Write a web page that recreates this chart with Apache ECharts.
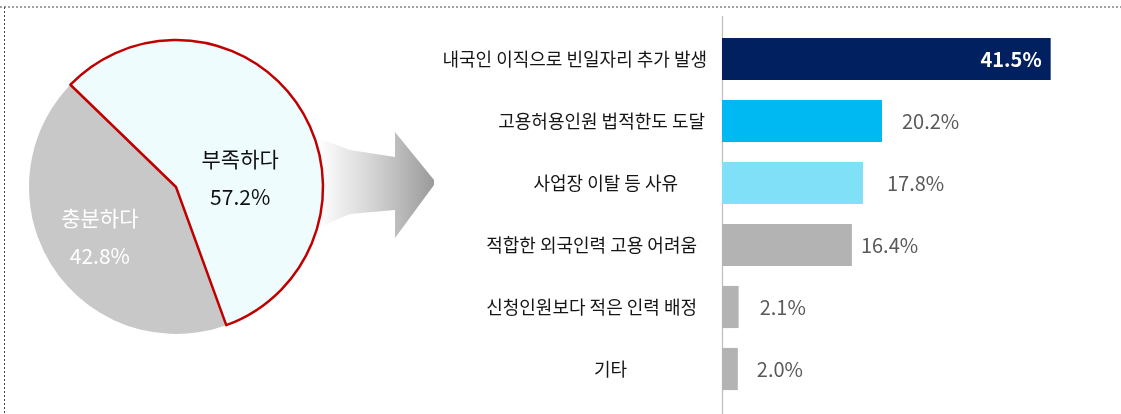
<!DOCTYPE html>
<html>
<head>
<meta charset="utf-8">
<script src="https://cdn.jsdelivr.net/npm/echarts@6/dist/echarts.min.js"></script>
<style>
  html, body { margin: 0; padding: 0; background: #ffffff; }
  #chart { width: 1121px; height: 414px; }
</style>
</head>
<body>
<div id="chart"></div>
<script>
// 인력 충분 여부 (원형)
const pieNames = ['충분하다', '부족하다'];
const pieValues = [42.8, 57.2];

// 부족 사유 (막대)
const reasons = [
  '내국인 이직으로 빈일자리 추가 발생',
  '고용허용인원 법적한도 도달',
  '사업장 이탈 등 사유',
  '적합한 외국인력 고용 어려움',
  '신청인원보다 적은 인력 배정',
  '기타'
];
const reasonValues = [41.5, 20.2, 17.8, 16.4, 2.1, 2.0];

// 막대 색상과 라벨 여백
const barColors = ['#002060', '#00b8f2', '#7fe0f8', '#b3b3b3', '#b3b3b3', '#b3b3b3'];
const labelGaps = [9, 20, 24, 9, 21, 19];
const nameInsets = [0, 2, 29, 10, 10, 80];

const FONT = '"Noto Sans CJK KR", "Noto Sans", sans-serif';

const chart = echarts.init(document.getElementById('chart'), null, { renderer: 'canvas' });

const pieData = pieNames.map((n, i) => {
  const item = { name: n, value: pieValues[i] };
  if (n === '부족하다') {
    item.itemStyle = { color: '#eefcfe', borderColor: '#c00000', borderWidth: 2.5 };
    item.label = { color: '#111111', offset: [0, 33], align: 'center' };
  } else {
    item.itemStyle = { color: '#c8c8c8', borderWidth: 0 };
    item.label = { color: '#ffffff', offset: [-12, 8] };
  }
  return item;
});

const barData = reasonValues.map((v, i) => {
  const first = i === 0;
  return {
    value: v,
    itemStyle: { color: barColors[i] },
    label: first
      ? { position: 'insideRight', distance: labelGaps[i], color: '#ffffff', fontWeight: 'bold' }
      : { position: 'right', distance: labelGaps[i], color: '#595959' }
  };
});

const option = {
  backgroundColor: '#ffffff',
  animation: false,
  grid: { left: 722, right: 3, top: 28, bottom: 14, containLabel: false },
  xAxis: {
    type: 'value', min: 0, max: 50, show: false
  },
  yAxis: {
    type: 'category',
    inverse: true,
    data: reasons.map((r, i) => ({ value: r, textStyle: { padding: [0, nameInsets[i], 0, 0] } })),
    axisLine: { show: false },
    axisTick: { show: false },
    axisLabel: { margin: 15, fontSize: 18, color: '#151515', fontFamily: FONT, align: 'right' }
  },
  series: [
    {
      type: 'pie',
      center: [176, 187],
      radius: [0, 147],
      startAngle: 290,
      clockwise: true,
      silent: true,
      label: {
        show: true,
        position: 'inside',
        fontSize: 21,
        fontFamily: FONT,
        lineHeight: 38,
        formatter: p => p.name + '\n' + p.value.toFixed(1) + '%'
      },
      labelLine: { show: false },
      data: pieData
    },
    {
      type: 'bar',
      barCategoryGap: '32%',
      data: barData,
      label: {
        show: true,
        fontSize: 20,
        fontFamily: FONT,
        formatter: p => p.value.toFixed(1) + '%'
      }
    }
  ],
  graphic: [
    // 점선 테두리
    { type: 'line', shape: { x1: 0, y1: 7, x2: 1121, y2: 7 },
      style: { stroke: '#444444', lineWidth: 1, lineDash: [2, 2] }, silent: true },
    { type: 'line', shape: { x1: 4.5, y1: 7, x2: 4.5, y2: 414 },
      style: { stroke: '#444444', lineWidth: 1, lineDash: [2, 2] }, silent: true },
    // 막대 기준선
    { type: 'line', shape: { x1: 722.5, y1: 16, x2: 722.5, y2: 414 },
      style: { stroke: '#bdbdbd', lineWidth: 1.2 }, silent: true },
    // 화살표
    {
      type: 'polygon', silent: true, z: -1,
      shape: { points: [[318, 138], [350, 150], [395, 157], [395, 132], [434, 180], [434, 185], [395, 238], [395, 210], [350, 214], [318, 228]] },
      style: {
        fill: new echarts.graphic.LinearGradient(0, 0, 1, 0, [
          { offset: 0, color: 'rgba(255,255,255,1)' },
          { offset: 0.45, color: '#d6d6d6' },
          { offset: 1, color: '#9a9a9a' }
        ])
      }
    }
  ]
};

chart.setOption(option);
</script>
</body>
</html>
